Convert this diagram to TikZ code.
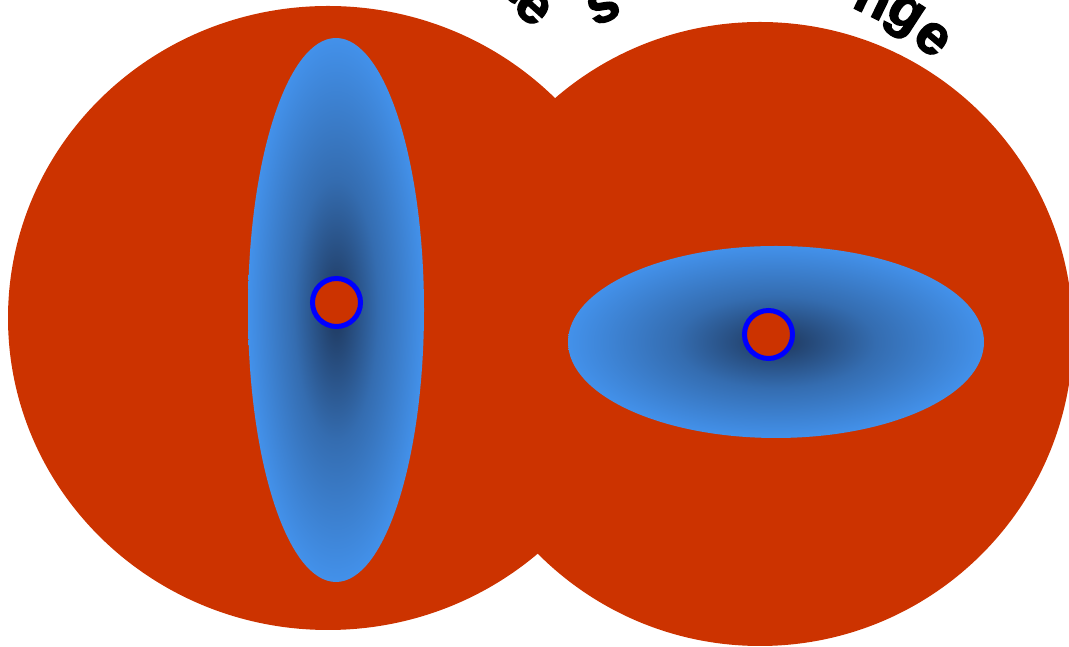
\documentclass[tikz,border=0pt]{standalone}
\usepackage{fontspec}
\setmainfont{Liberation Sans}
\newfontfamily\heavyfont[BoldFeatures={FakeBold=2.5}]{Liberation Sans}
\definecolor{bred}{HTML}{CC3300}
\definecolor{blight}{HTML}{4391EA}
\definecolor{bdark}{HTML}{22406A}
\definecolor{ringblue}{HTML}{0000FF}
\pgfdeclareradialshading{blob}{\pgfpoint{0bp}{0bp}}{color(0bp)=(bdark); color(2bp)=(bdark); color(12bp)=(blight!55!bdark); color(25bp)=(blight); color(50bp)=(blight)}
\begin{document}
\begin{tikzpicture}[x=1pt,y=1pt,
  lbl/.style={font=\heavyfont\fontsize{56}{60}\selectfont\bfseries, text=black, inner sep=0pt},
  dot/.style={circle, draw=ringblue, line width=5pt, fill=bred, minimum size=48pt, inner sep=0pt},
  body/.style={fill=bred},
  core/.style={shading=blob}]
\useasboundingbox (0,0) rectangle (1069,647);
\clip (0,0) rectangle (1069,647);
% big discs
\path[body] (328,329) ellipse [x radius=320, y radius=312];
\path[body] (760,313) ellipse [x radius=313, y radius=312];
% shaded cores
\shade[core] (336,337) ellipse [x radius=88, y radius=272];
\shade[core] (776,305) ellipse [x radius=208, y radius=96];
% small rings
\node[dot] (c1) at (336.5,344.5) {};
\node[dot] (c2) at (768.5,312.5) {};
% arc text fragments
\node[lbl, rotate=-36] (l0) at ([shift={(61.5:382)}]328,329) {a};
\node[lbl, rotate=-42] (l1) at ([shift={(56.6:372)}]328,329) {e};
\node[lbl, rotate=22] (r0) at ([shift={(115.6:363)}]760,313) {s};
\node[lbl, rotate=-26] (r1) at ([shift={(71.3:352)}]760,313) {n};
\node[lbl, rotate=-33] (r2) at ([shift={(65.7:347)}]760,313) {g};
\node[lbl, rotate=-40] (r3) at ([shift={(59.8:342)}]760,313) {e};
\end{tikzpicture}
\end{document}
